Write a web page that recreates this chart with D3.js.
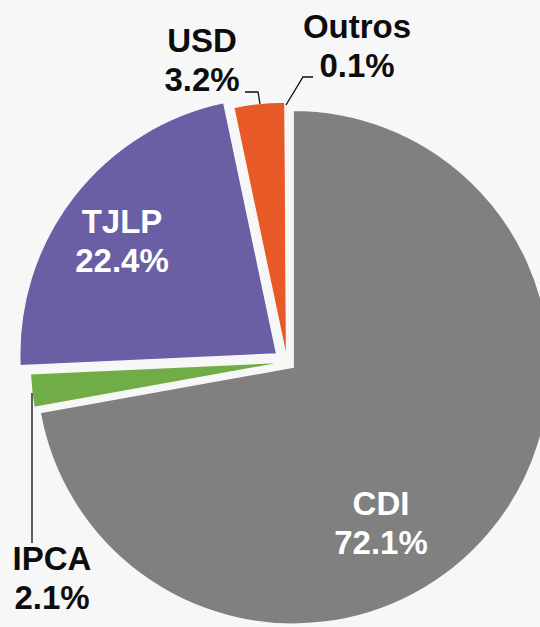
<!DOCTYPE html>
<html lang="pt">
<head>
<meta charset="UTF-8">
<script src="https://d3js.org/d3.v7.min.js"></script>
<title>Indexadores</title>
<style>
  body { margin: 0; background: #f7f7f7; }
  svg { display: block; }
  .lbl { font-family: "Liberation Sans", Arial, sans-serif; font-weight: bold; font-size: 33px; }
  .leader { fill: none; stroke: #0d0d0d; stroke-width: 1.3px; }
</style>
</head>
<body>
<svg width="540" height="627"></svg>
<script>
// data
var categories = ["CDI", "IPCA", "TJLP", "USD", "Outros"];
var shares = [72.1, 2.1, 22.4, 3.2, 0.1];
var pctLabels = ["72.1%", "2.1%", "22.4%", "3.2%", "0.1%"];

// styling / layout
var colors = ["#808080", "#71ad47", "#6a5fa5", "#e75a27", "#7f7f7f"];
var explode = [8, 0, 13, 3, 3];
var labelStyle = [
  { x: 381, y: 515, fill: "#fff" },
  { x: 52, y: 570, fill: "#0d0d0d" },
  { x: 122, y: 233, fill: "#fff" },
  { x: 202, y: 52, fill: "#0d0d0d" },
  { x: 357, y: 38, fill: "#0d0d0d" }
];
var leaders = [
  null,
  [[32, 543], [32, 393]],
  null,
  [[245, 92], [258, 92], [260, 104]],
  [[313, 77], [303, 77], [286, 105]]
];

var width = 540, height = 627;
var cx = 287, cy = 362, radius = 257;
var svg = d3.select("svg");

var pie = d3.pie().sort(null).value(function(d) { return d; });
var arcs = pie(shares);
var arc = d3.arc().innerRadius(0).outerRadius(radius);

var g = svg.append("g").attr("transform", "translate(" + cx + "," + cy + ")");

g.selectAll("path")
  .data(arcs)
  .enter().append("path")
  .attr("d", arc)
  .attr("fill", function(d, i) { return colors[i]; })
  .attr("stroke", "#f7f7f7")
  .attr("stroke-width", 1.5)
  .attr("transform", function(d, i) {
    var a = (d.startAngle + d.endAngle) / 2;
    return "translate(" + (Math.sin(a) * explode[i]) + "," + (-Math.cos(a) * explode[i]) + ")";
  });

// leader lines
var line = d3.line();
svg.selectAll("path.leader")
  .data(leaders.filter(function(d) { return d; }))
  .enter().append("path")
  .attr("class", "leader")
  .attr("d", line);

// labels
var lbl = svg.selectAll("text.lbl")
  .data(categories)
  .enter().append("text")
  .attr("class", "lbl")
  .attr("text-anchor", "middle")
  .attr("x", function(d, i) { return labelStyle[i].x; })
  .attr("y", function(d, i) { return labelStyle[i].y; })
  .attr("fill", function(d, i) { return labelStyle[i].fill; });

lbl.append("tspan").text(function(d) { return d; });
lbl.append("tspan")
  .attr("x", function(d, i) { return labelStyle[i].x; })
  .attr("dy", 39)
  .text(function(d, i) { return pctLabels[i]; });
</script>
</body>
</html>
